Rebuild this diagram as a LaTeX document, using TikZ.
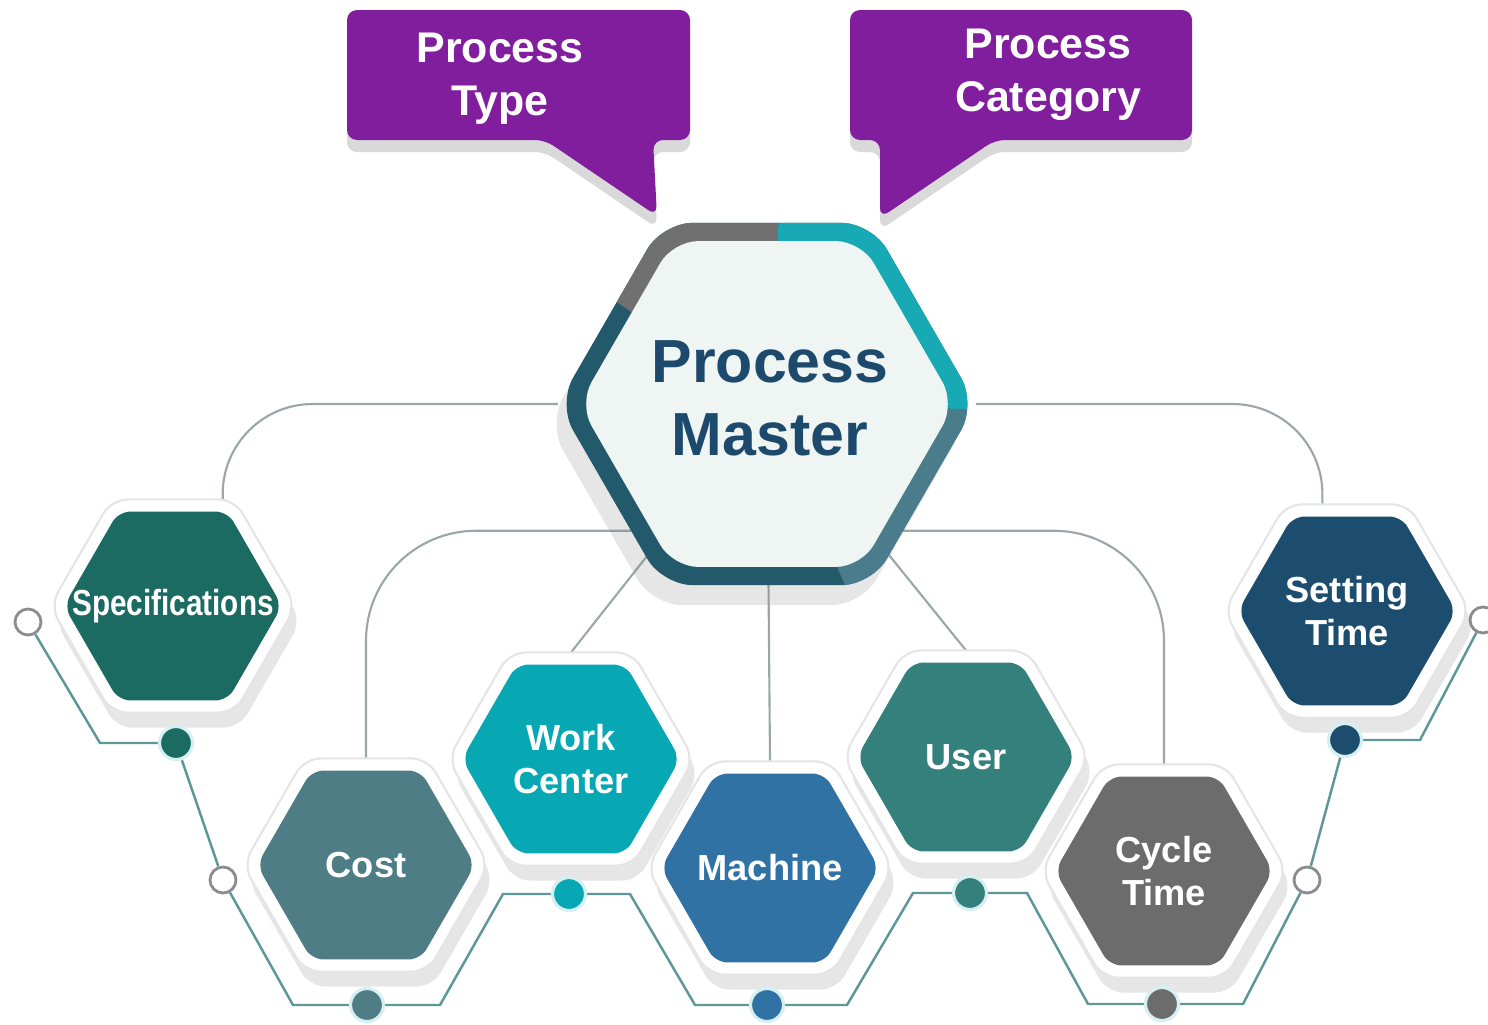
\documentclass[tikz,border=0pt]{standalone}
\usepackage{fontspec}
\setmainfont{Liberation Sans}
\usepackage{graphicx}
\usetikzlibrary{shapes.geometric,shadows,backgrounds,positioning}

\definecolor{callpurple}{HTML}{801E9E}
\definecolor{pmtext}{HTML}{1D4A6C}
\definecolor{pmbase}{HTML}{235A6B}
\definecolor{pmgray}{HTML}{707070}
\definecolor{pmteal}{HTML}{17A9B4}
\definecolor{pmslate}{HTML}{4B7C8C}
\definecolor{pmfill}{HTML}{EEF5F2}
\definecolor{specgreen}{HTML}{1B6B63}
\definecolor{costslate}{HTML}{4F7D86}
\definecolor{wcteal}{HTML}{07A8B4}
\definecolor{machblue}{HTML}{2F72A3}
\definecolor{userteal}{HTML}{33807C}
\definecolor{cycgray}{HTML}{6C6C6C}
\definecolor{setnavy}{HTML}{1C4C6E}
\definecolor{spokegray}{HTML}{9AA6A8}
\definecolor{zigteal}{HTML}{5E9699}
\definecolor{ringline}{HTML}{8C8C8C}
\definecolor{dotrim}{HTML}{D6EFF0}

\begin{document}
\begin{tikzpicture}[x=0.01cm,y=-0.01cm,
  hexrim/.style={regular polygon,regular polygon sides=6,minimum size=2.46cm,inner sep=0pt,outer sep=0pt,
    fill=white,draw=black!10,line width=0.6pt,rounded corners=0.16cm,
    drop shadow={shadow xshift=0.5mm,shadow yshift=-1.5mm,opacity=0.2}},
  hexcore/.style={regular polygon,regular polygon sides=6,minimum size=2.18cm,inner sep=0pt,outer sep=0pt,
    fill=#1,rounded corners=0.12cm},
  hexlabel/.style={text=white,font=\fontsize{10.3}{12}\selectfont\bfseries,align=center},
  hexdot/.style={circle,fill=#1,draw=dotrim,line width=0.9pt,minimum size=0.33cm,inner sep=0pt},
  openring/.style={circle,fill=white,draw=ringline,line width=0.8pt,minimum size=0.26cm,inner sep=0pt},
  spoke/.style={draw=spokegray,line width=0.6pt},
  zigzag/.style={draw=zigteal,line width=0.7pt},
  callout/.style={fill=callpurple,rounded corners=0.1cm,drop shadow={shadow xshift=0mm,shadow yshift=-1.2mm,opacity=0.3}},
  calltext/.style={text=white,font=\fontsize{12.2}{15}\selectfont\bfseries,align=center}]

  \useasboundingbox (0,0) rectangle (1488,1024);

  % central hexagon
  \node[regular polygon,regular polygon sides=6,minimum size=4.18cm,inner sep=0pt,outer sep=0pt,
    fill=pmbase,rounded corners=0.3cm,drop shadow={shadow xshift=-1mm,shadow yshift=-2mm,opacity=0.2}] (pm) at (767,404) {};
  \begin{scope}
    \clip[rounded corners=0.3cm] (pm.corner 1) -- (pm.corner 2) -- (pm.corner 3)
      -- (pm.corner 4) -- (pm.corner 5) -- (pm.corner 6) -- cycle;
    \fill[pmgray] (pm.center) -- (540,250) -- (540,200) -- (780,200) -- cycle;
    \fill[pmteal] (pm.center) -- (780,200) -- (1000,200) -- (1000,410) -- cycle;
    \fill[pmslate] (pm.center) -- (1000,410) -- (1000,620) -- (860,620) -- cycle;
  \end{scope}
  \node[regular polygon,regular polygon sides=6,minimum size=3.76cm,inner sep=0pt,outer sep=0pt,
    fill=pmfill,rounded corners=0.25cm] (pmin) at (pm) {};
  \node[text=pmtext,font=\fontsize{17.3}{20.8}\selectfont\bfseries,align=center] (pmtxt) at (770,398) {Process\\Master};

  % outer hexagons
  \foreach \n/\x/\y/\c/\t in {
    spec/173/606/specgreen/{\scalebox{0.82}[1]{Specifications}},
    set/1347/611/setnavy/{Setting\\Time},
    cost/366/865/costslate/Cost,
    wc/571/759/wcteal/{Work\\Center},
    user/966/757/userteal/User,
    mach/770/868/machblue/Machine,
    cyc/1164/871/cycgray/{Cycle\\Time}}
  {
    \node[hexrim] (\n) at (\x,\y) {};
    \node[hexcore=\c] (\n in) at (\n) {};
    \node[hexlabel] (\n txt) at (\n) {\t};
  }

  \node[openring] (o1) at (28,622) {};
  \node[openring] (o2) at (223,880) {};
  \node[openring] (o3) at (1307,880) {};
  \node[openring] (o4) at (1483,620) {};
  \node[hexdot=specgreen] (dspec) at (176,743) {};
  \node[hexdot=costslate] (dcost) at (367,1005) {};
  \node[hexdot=wcteal] (dwc) at (569,894) {};
  \node[hexdot=machblue] (dmach) at (767,1005) {};
  \node[hexdot=userteal] (duser) at (970,893) {};
  \node[hexdot=cycgray] (dcyc) at (1162,1004) {};
  \node[hexdot=setnavy] (dset) at (1345,740) {};

  \begin{scope}[on background layer]
    \draw[spoke,rounded corners=0.9cm] (pm.west) -| (spec.65);
    \draw[spoke,rounded corners=0.9cm] (pm.east) -| (set.103);
    \draw[spoke,rounded corners=1.1cm] (pm.223) -| (cost.north);
    \draw[spoke,rounded corners=1.1cm] (pm.317) -| (cyc.north);
    \draw[spoke] (pm.center) -- (wc.north);
    \draw[spoke] (pm.center) -- (mach.north);
    \draw[spoke] (pm.center) -- (user.north);
    \draw[zigzag] (o1) -- (100,743) -- (dspec) -- (o2) -- (293,1005) -- (dcost) -- (440,1005)
      -- (503,894) -- (dwc) -- (630,894) -- (695,1005) -- (dmach) -- (847,1005) -- (913,893)
      -- (duser) -- (1027,893) -- (1088,1004) -- (dcyc) -- (1243,1004) -- (o3) -- (dset)
      -- (1420,740) -- (o4);
  \end{scope}

  % callouts
  \path[callout] (347,10) -- (690,10) -- (690,140) -- (653,140) -- (657,216) -- (545,140) -- (347,140) -- cycle;
  \path[callout] (850,10) -- (1192,10) -- (1192,140) -- (995,140) -- (880,218) -- (880,140) -- (850,140) -- cycle;
  \node[calltext] (ptype) at (500,79) {Process\\Type};
  \node[calltext] (pcat) at (1048,75) {Process\\Category};
\end{tikzpicture}
\end{document}
